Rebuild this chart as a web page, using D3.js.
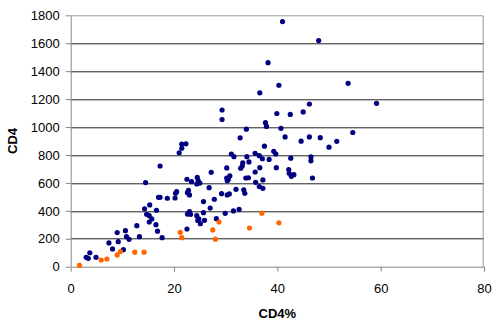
<!DOCTYPE html>
<html>
<head>
<meta charset="utf-8">
<script src="https://cdn.jsdelivr.net/npm/d3@7"></script>
<style>
  body { margin: 0; background: #fff; }
  svg { display: block; font-family: "Liberation Sans", Arial, sans-serif; }
  .tick text { font-size: 13px; fill: #000; }
  .axis-title { font-size: 13px; font-weight: bold; }
</style>
</head>
<body>
<svg id="chart" width="500" height="327"></svg>
<script>
// CD4% (x) and CD4 count (y), first group (navy points)
var groupA_pct = [3.0, 3.4, 3.7, 4.9, 7.4, 8.1, 9.0, 9.2, 10.2, 10.6, 10.8, 11.3, 12.8, 13.3,
    14.5, 14.3, 14.7, 15.3, 15.2, 15.2, 15.7, 16.5, 16.6, 16.8, 17.7, 17.3, 17.0, 17.3, 18.7,
    20.2, 20.3, 20.5, 21.0, 22.5, 22.6, 22.8, 23.0, 23.4, 22.5, 22.6, 23.0, 23.2, 24.5, 24.7,
    25.0, 24.4, 24.4, 24.8, 25.1, 25.7, 25.7, 25.9, 26.8, 27.0, 27.2, 27.8, 28.2, 29.2, 29.9,
    30.2, 30.2, 30.3, 30.5, 30.3, 30.7, 30.8, 31.1, 31.6, 31.5, 32.0, 32.6, 32.9, 33.2, 33.3,
    33.5, 33.7, 33.9, 34.1, 34.4, 34.5, 24.6, 35.7, 36.5, 37.1, 38.4, 39.3, 39.7, 42.6, 46.5,
    46.5, 36.6, 35.7, 35.8, 37.2, 36.5, 37.2, 39.8, 42.2, 42.3, 42.7, 43.2, 46.8, 38.2, 40.3,
    36.6, 53.7, 46.2, 39.9, 42.5, 45.0, 37.7, 37.9, 40.7, 41.5, 44.6, 46.2, 48.3, 51.5, 50.0,
    54.6, 37.5, 41.0, 48.0, 59.2, 29.3, 29.3, 34.0, 32.8, 21.5, 22.3, 21.5];
var groupA_cd4 = [67, 60, 100, 67, 170, 127, 244, 179, 122, 258, 215, 196, 294, 215,
    602, 415, 375, 442, 365, 320, 342, 301, 404, 254, 208, 721, 497, 497, 490,
    492, 526, 537, 816, 626, 530, 547, 514, 609, 270, 377, 394, 375, 639, 614,
    599, 592, 365, 342, 308, 387, 466, 332, 566, 420, 676, 483, 344, 523, 382,
    707, 635, 616, 625, 514, 521, 650, 807, 788, 399, 554, 411, 705, 721, 743,
    551, 526, 635, 788, 637, 750, 331, 812, 795, 773, 768, 826, 807, 777, 786,
    758, 709, 678, 604, 621, 574, 561, 709, 696, 669, 647, 659, 635, 1461, 1299,
    1245, 1313, 1165, 1097, 1090, 1108, 1031, 1004, 991, 929, 899, 929, 924, 898, 856,
    961, 863, 1755, 1619, 1170, 1122, 1054, 985, 923, 877, 880, 848];

// second group (orange points)
var groupB_pct = [1.7, 5.9, 7.0, 9.0, 9.6, 12.4, 14.2, 21.2, 21.5, 27.5, 28.0, 28.7, 34.6, 37.0, 40.3];
var groupB_cd4 = [10, 48, 55, 84, 109, 104, 104, 246, 208, 263, 197, 320, 277, 383, 314];

var xTicks = [0, 20, 40, 60, 80];
var yTicks = [0, 200, 400, 600, 800, 1000, 1200, 1400, 1600, 1800];

var margin = { top: 15.3, right: 16, bottom: 60.3, left: 70.7 };
var width = 500 - margin.left - margin.right;
var height = 327 - margin.top - margin.bottom;

var svg = d3.select("#chart");
var g = svg.append("g")
    .attr("transform", "translate(" + margin.left + "," + margin.top + ")");

var x = d3.scaleLinear().domain([0, 80]).range([0, width]);
var y = d3.scaleLinear().domain([0, 1800]).range([height, 0]);

// 横のグリッド線
g.append("g")
    .selectAll("line")
    .data(yTicks.filter(function(d){ return d > 0 && d < 1800; }))
    .enter().append("line")
    .attr("x1", 0)
    .attr("x2", width)
    .attr("y1", function(d){ return Math.round(y(d)) + 0.5; })
    .attr("y2", function(d){ return Math.round(y(d)) + 0.5; })
    .attr("stroke", "#222")
    .attr("stroke-width", 1);

// plot frame (top and right)
g.append("path")
    .attr("d", "M0," + Math.round(y(1800)) + ".5H" + (Math.round(width) - 0.5) + "V" + height)
    .attr("fill", "none")
    .attr("stroke", "#999")
    .attr("stroke-width", 1);

// axes
var xAxis = d3.axisBottom(x).tickValues(xTicks).tickSize(5).tickPadding(12).tickSizeOuter(0);
var yAxis = d3.axisLeft(y).tickValues(yTicks).tickFormat(d3.format("d"))
    .tickSize(5).tickPadding(6).tickSizeOuter(0);

g.append("g")
    .attr("transform", "translate(0," + height + ")")
    .call(xAxis)
    .call(function(a){
        a.selectAll("path, line").attr("stroke", "#888");
    });

g.append("g")
    .call(yAxis)
    .call(function(a){
        a.selectAll("path, line").attr("stroke", "#888");
    });

// points
g.append("g")
    .selectAll("circle")
    .data(groupA_pct)
    .enter().append("circle")
    .attr("cx", function(d){ return x(d); })
    .attr("cy", function(d, i){ return y(groupA_cd4[i]); })
    .attr("r", 2.6)
    .attr("fill", "#000080");

g.append("g")
    .selectAll("circle")
    .data(groupB_pct)
    .enter().append("circle")
    .attr("cx", function(d){ return x(d); })
    .attr("cy", function(d, i){ return y(groupB_cd4[i]); })
    .attr("r", 2.6)
    .attr("fill", "#ff6600");

// axis titles
svg.append("text")
    .attr("class", "axis-title")
    .attr("x", margin.left + width / 2)
    .attr("y", 318.3)
    .attr("text-anchor", "middle")
    .text("CD4%");

svg.append("text")
    .attr("class", "axis-title")
    .attr("transform", "translate(16.5," + (margin.top + height / 2) + ") rotate(-90)")
    .attr("text-anchor", "middle")
    .text("CD4");
</script>
</body>
</html>
